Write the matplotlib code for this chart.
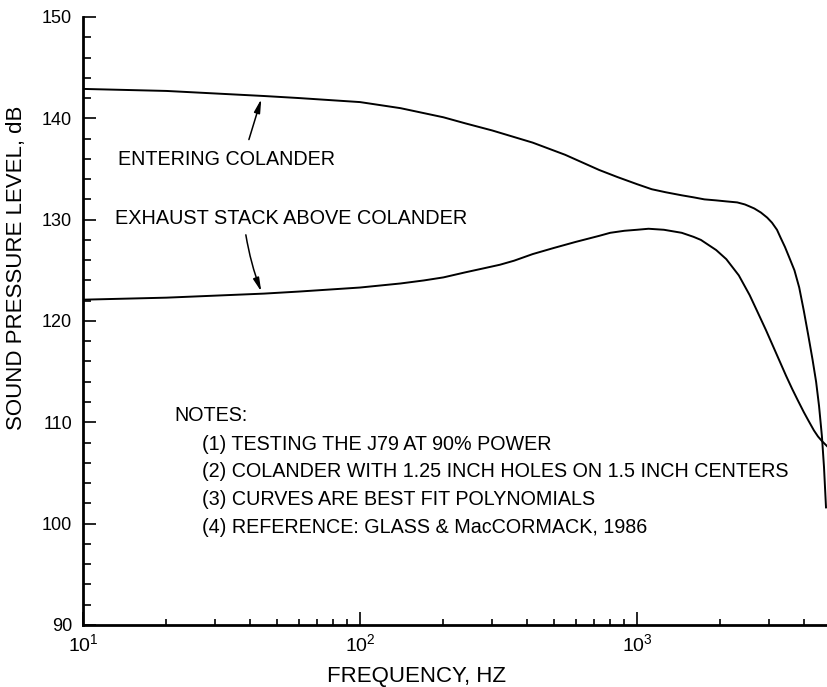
import math
import matplotlib
matplotlib.use("Agg")
import matplotlib.pyplot as plt
from matplotlib.ticker import FixedLocator, LogLocator, FuncFormatter, MultipleLocator

plt.rcParams["font.family"] = ["Liberation Sans", "DejaVu Sans"]
plt.rcParams["mathtext.fontset"] = "custom"
plt.rcParams["mathtext.rm"] = "Liberation Sans"
plt.rcParams["mathtext.it"] = "Liberation Sans:italic"

# entering colander (upper curve)
freq_enter = [10, 20, 45, 60, 100, 140, 200, 240, 300, 420, 550, 730, 850,
              1000, 1130, 1270, 1450, 1600, 1750, 1930, 2100, 2300, 2450,
              2550, 2650, 2800, 2950, 3070, 3200, 3300, 3420, 3540, 3700,
              3850, 4000, 4150, 4300, 4430, 4540, 4650, 4730, 4810]
spl_enter = [142.9, 142.7, 142.2, 142.0, 141.6, 141.0, 140.1, 139.5, 138.8,
             137.6, 136.4, 134.9, 134.2, 133.5, 133.0, 132.7, 132.4, 132.2,
             132.0, 131.9, 131.8, 131.7, 131.5, 131.3, 131.1, 130.7, 130.2,
             129.7, 129.0, 128.2, 127.3, 126.3, 125.0, 123.3, 121.0, 118.6,
             116.2, 114.0, 111.6, 108.6, 105.6, 101.6]

# exhaust stack above colander (lower curve)
freq_exhaust = [10, 20, 45, 60, 100, 140, 170, 200, 240, 280, 320, 360, 420,
                500, 600, 730, 800, 900, 1000, 1100, 1250, 1450, 1600, 1700,
                1930, 2100, 2330, 2550, 2700, 2920, 3070, 3300, 3450, 3630,
                3800, 4000, 4150, 4350, 4500, 4650, 4850]
spl_exhaust = [122.1, 122.3, 122.7, 122.9, 123.3, 123.7, 124.0, 124.3, 124.8,
               125.2, 125.55, 125.95, 126.6, 127.2, 127.8, 128.4, 128.7, 128.9,
               129.0, 129.1, 129.0, 128.7, 128.3, 128.0, 127.0, 126.1, 124.5,
               122.55, 121.1, 119.1, 117.75, 115.8, 114.6, 113.3, 112.2, 111.0,
               110.2, 109.2, 108.6, 108.15, 107.65]

notes = [
    "(1) TESTING THE J79 AT 90% POWER",
    "(2) COLANDER WITH 1.25 INCH HOLES ON 1.5 INCH CENTERS",
    "(3) CURVES ARE BEST FIT POLYNOMIALS",
    "(4) REFERENCE: GLASS & MacCORMACK, 1986",
]


def main():
    fig = plt.figure(figsize=(8.27, 6.87), dpi=100)
    ax = fig.add_axes([0.1004, 0.0903, 0.8996, 0.885])

    ax.plot(freq_enter, spl_enter, color="black", lw=1.4)
    ax.plot(freq_exhaust, spl_exhaust, color="black", lw=1.4)

    ax.set_xscale("log")
    ax.set_xlim(10, 4850)
    ax.set_ylim(90, 150)

    ax.spines["top"].set_visible(False)
    ax.spines["right"].set_visible(False)
    ax.spines["left"].set_linewidth(2.0)
    ax.spines["bottom"].set_linewidth(2.0)

    ax.xaxis.set_major_locator(FixedLocator([10, 100, 1000]))
    ax.xaxis.set_major_formatter(
        FuncFormatter(lambda v, p: r"$\mathregular{10^{%d}}$" % round(math.log10(v))))
    ax.xaxis.set_minor_locator(LogLocator(base=10, subs=range(2, 10)))
    ax.xaxis.set_minor_formatter(FuncFormatter(lambda v, p: ""))
    ax.yaxis.set_major_locator(MultipleLocator(10))
    ax.yaxis.set_minor_locator(MultipleLocator(2))

    ax.tick_params(which="both", direction="in", width=1.2)
    ax.tick_params(axis="y", which="major", length=9.5, pad=8, labelsize=13)
    ax.tick_params(axis="y", which="minor", length=6)
    ax.tick_params(axis="x", which="major", length=9.5, pad=6, labelsize=14)
    ax.tick_params(axis="x", which="minor", length=4.5)

    ax.set_xlabel("FREQUENCY, HZ", fontsize=16)
    ax.xaxis.set_label_coords(0.448, -0.067)
    ax.set_ylabel("SOUND PRESSURE LEVEL, dB", fontsize=16)
    ax.yaxis.set_label_coords(-0.075, 0.587)

    ax.text(0.047, 0.765, "ENTERING COLANDER", transform=ax.transAxes,
            fontsize=14.2, va="center", ha="left")
    ax.text(0.043, 0.669, "EXHAUST STACK ABOVE COLANDER", transform=ax.transAxes,
            fontsize=14.3, va="center", ha="left")

    arrow = dict(arrowstyle="-|>,head_length=0.8,head_width=0.18",
                 color="black", lw=1.1, shrinkA=0, shrinkB=0)
    ax.annotate("", xy=(44, 141.9), xytext=(39.7, 137.9), arrowprops=arrow)
    ax.annotate("", xy=(44, 122.9), xytext=(38.7, 128.5),
                arrowprops=dict(arrow, connectionstyle="arc3,rad=0.05"))

    ax.text(0.1225, 0.345, "NOTES:", transform=ax.transAxes,
            fontsize=14.2, va="center", ha="left")
    note_y = [0.296, 0.252, 0.206, 0.161]
    for y, t in zip(note_y, notes):
        ax.text(0.160, y, t, transform=ax.transAxes,
                fontsize=14.2, va="center", ha="left")

    fig.savefig("out.png", dpi=100)


if __name__ == "__main__":
    main()
